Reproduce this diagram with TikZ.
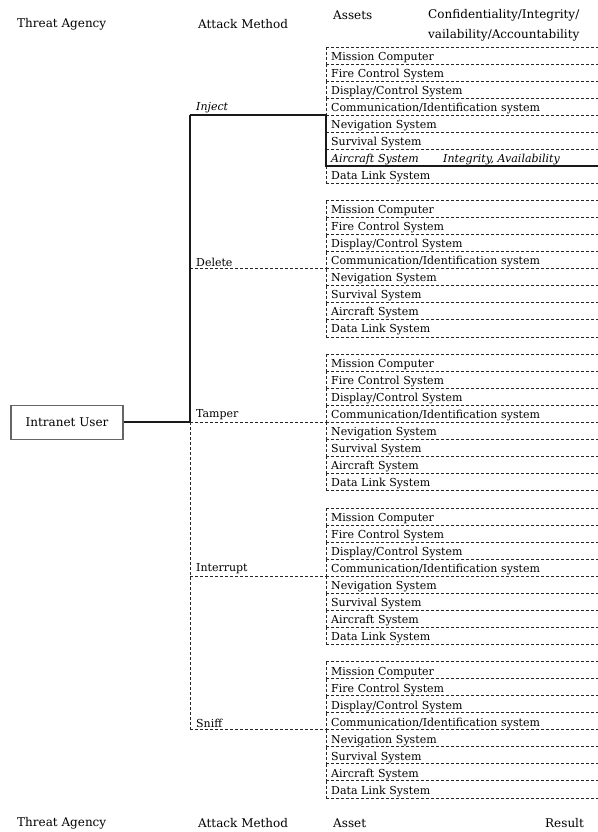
\documentclass[tikz,border=0pt]{standalone}
\usepackage{fontspec}
\setmainfont{DejaVu Serif}
\usetikzlibrary{calc}
\begin{document}
\begin{tikzpicture}[x=1pt,y=-1pt,
  dl/.style={line width=0.7pt,dash pattern=on 3pt off 2pt,black!85},
  thk/.style={line width=2pt,black!90},
  rowtxt/.style={anchor=north west,minimum height=17pt,text width=265pt,inner xsep=5pt,inner ysep=0pt,align=left,text height=9.5pt,text depth=0.5pt,font=\fontsize{11}{13}\selectfont},
  mtxt/.style={anchor=south west,inner sep=1pt,font=\fontsize{11}{13}\selectfont},
  hdr/.style={anchor=west,inner sep=0pt,font=\fontsize{12}{14}\selectfont},
  iubox/.style={draw=black!60,line width=1.1pt,minimum width=112pt,minimum height=34pt,font=\fontsize{12}{14}\selectfont}]
\useasboundingbox (0,0) rectangle (597,832);
% headers
\node[hdr] (h1) at (17,24) {Threat Agency};
\node[hdr] (h2) at (198,24) {Attack Method};
\node[hdr] (h3) at (333,15) {Assets};
\node[hdr] (h4) at (428,15) {Confidentiality/Integrity/};
\node[hdr] (h5) at (428,35) {vailability/Accountability};
% footers
\node[hdr] (f1) at (17,823) {Threat Agency};
\node[hdr] (f2) at (198,823) {Attack Method};
\node[hdr] (f3) at (333,823) {Asset};
\node[hdr] (f4) at (545,823) {Result};
% asset rows
\foreach \g in {0,...,4}{
  \pgfmathsetmacro\T{47+153.7*\g}
  \foreach \t [count=\j from 0] in {Mission Computer,Fire Control System,Display/Control System,Communication/Identification system,Nevigation System,Survival System,Aircraft System,Data Link System}{
    \ifnum\numexpr\g*10+\j\relax=6
      \node[rowtxt] (r\g-\j) at (326,{\T+17*\j}) {\makebox[112pt][l]{\itshape Aircraft System}{\itshape Integrity, Availability}};
    \else
      \node[rowtxt] (r\g-\j) at (326,{\T+17*\j}) {\t};
    \fi
    \draw[dl] (r\g-\j.north west) -- (r\g-\j.north east);
    \draw[dl] (r\g-\j.north west) -- (r\g-\j.south west);
  }
  \draw[dl] (r\g-7.south west) -- (r\g-7.south east);
  \coordinate (b\g) at (190,{\T+68});
}
% attack methods
\foreach \g/\name in {0/\textit{Inject},1/Delete,2/Tamper,3/Interrupt,4/Sniff}{
  \node[mtxt] (m\g) at ($(b\g)+(5,-1)$) {\name};
}
\foreach \g in {1,...,4}{
  \draw[dl] (b\g) -- (r\g-4.north west);
}
\draw[thk] (b0) -- (r0-4.north west) -- (r0-6.south west) -- (r0-6.south east);
\draw[thk] (b0) -- (b2);
\draw[dl] (b2) -- (b4);
% threat agency
\node[iubox] (iu) at (67,422.4) {Intranet User};
\draw[thk] (iu.east) -- (b2);
\end{tikzpicture}
\end{document}
